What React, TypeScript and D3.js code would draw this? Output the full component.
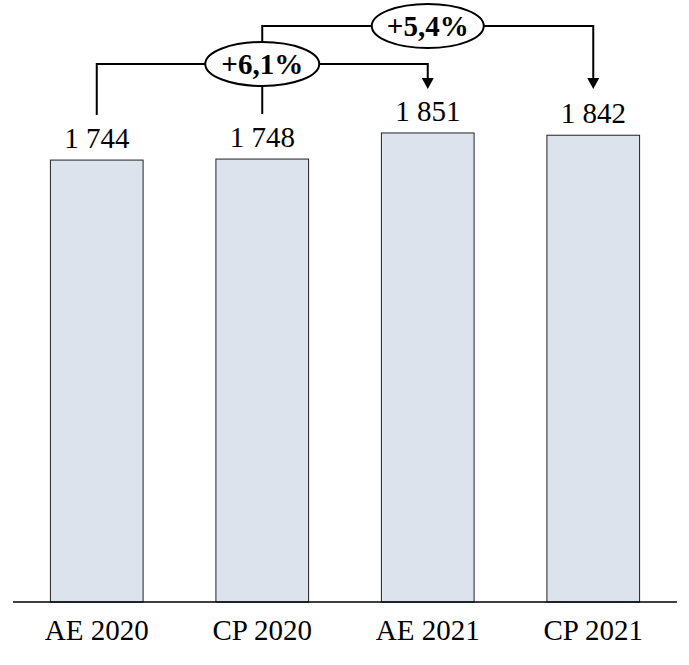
import React from 'react';
import * as d3 from 'd3';

const categories = ['AE 2020', 'CP 2020', 'AE 2021', 'CP 2021'];
const values = [1744, 1748, 1851, 1842];
const valueLabels = ['1 744', '1 748', '1 851', '1 842'];
const changeFrom = [0, 1];
const changeTo = [2, 3];
const changeLabels = ['+6,1%', '+5,4%'];

const width = 689;
const height = 665;
const baseY = 602;
const font = '"Liberation Serif", "Times New Roman", serif';

const App: React.FC = () => {
  const x = d3.scaleBand<string>()
    .domain(categories)
    .range([14, 676])
    .paddingInner(0.44)
    .paddingOuter(0.22);

  const y = d3.scaleLinear()
    .domain([0, 2000])
    .range([baseY, 95.2]);

  const cx = (i: number) => (x(categories[i]) ?? 0) + x.bandwidth() / 2;

  // bracket levels: the lower one sits under the upper one's ellipse
  const levels = [64, 26];
  const ry = 22;
  const rx = [57, 56];
  const arrowTip = 89;

  const arrow = (px: number, tip: number) =>
    `M${px - 6},${tip - 11}L${px + 6},${tip - 11}L${px},${tip}Z`;

  return (
    <svg
      width={width}
      height={height}
      viewBox={`0 0 ${width} ${height}`}
      style={{ position: 'absolute', left: 0, top: 0, background: '#fff' }}
    >
      {values.map((v, i) => (
        <g key={categories[i]}>
          <rect
            x={x(categories[i])}
            y={y(v)}
            width={x.bandwidth()}
            height={baseY - y(v)}
            fill="#dde3ed"
            stroke="#222"
            strokeWidth={1}
          />
          <text
            x={cx(i)}
            y={y(v) - 12}
            textAnchor="middle"
            fontFamily={font}
            fontSize={29}
            fill="#000"
          >
            {valueLabels[i]}
          </text>
          <text
            x={cx(i)}
            y={640}
            textAnchor="middle"
            fontFamily={font}
            fontSize={29}
            fill="#000"
          >
            {categories[i]}
          </text>
        </g>
      ))}

      <line x1={13} x2={677} y1={baseY} y2={baseY} stroke="#000" strokeWidth={1.5} />

      {changeLabels.map((lab, k) => {
        const a = cx(changeFrom[k]);
        const b = cx(changeTo[k]);
        const m = (a + b) / 2;
        const ly = levels[k];
        // lower bracket starts above the value label, upper one at the lower ellipse top
        const startY = k === 0 ? 115 : levels[0] - ry;
        return (
          <g key={lab}>
            <path
              d={`M${a},${startY}L${a},${ly}L${b},${ly}L${b},${arrowTip - 10}`}
              fill="none"
              stroke="#000"
              strokeWidth={2}
            />
            <path d={arrow(b, arrowTip)} fill="#000" />
            {k === 0 && (
              <line x1={m} x2={m} y1={ly + ry} y2={114} stroke="#000" strokeWidth={2} />
            )}
            <ellipse cx={m} cy={ly} rx={rx[k]} ry={ry} fill="#fff" stroke="#000" strokeWidth={2} />
            <text
              x={m}
              y={ly + 10}
              textAnchor="middle"
              fontFamily={font}
              fontWeight="bold"
              fontSize={29}
              fill="#000"
            >
              {lab}
            </text>
          </g>
        );
      })}
    </svg>
  );
};

export default App;
